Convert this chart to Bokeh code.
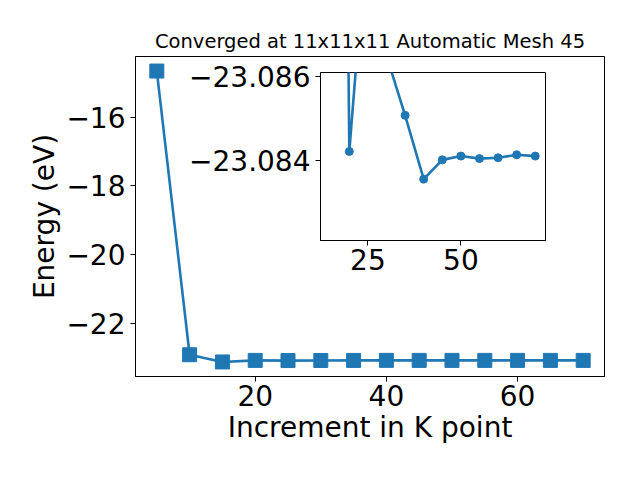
from bokeh.plotting import figure
from bokeh.models import Range1d, FixedTicker, GridBox
from bokeh.embed import file_html
from bokeh.resources import INLINE

# ---- data ----
k_points = [5, 10, 15, 20, 25, 30, 35, 40, 45, 50, 55, 60, 65, 70]
energy = [-14.65, -22.92, -23.13, -23.08422, -23.0898, -23.0865, -23.08508,
          -23.08356, -23.08402, -23.08411, -23.08405, -23.08407, -23.08414, -23.08411]

main_x_ticks = [20, 40, 60]
main_x_labels = ["20", "40", "60"]
main_y_ticks = [-22, -20, -18, -16]
main_y_labels = ["\u221222", "\u221220", "\u221218", "\u221216"]

inset_x_ticks = [25, 50]
inset_x_labels = ["25", "50"]
inset_y_ticks = [-23.086, -23.084]
inset_y_labels = ["\u221223.086", "\u221223.084"]

title_text = "Converged at 11x11x11 Automatic Mesh 45"
x_label = "Increment in K point"
y_label = "Energy (eV)"

COLOR = "#1f77b4"
FONT = "DejaVu Sans"


def style_axes(p, xt, xl, yt, yl, size="28px"):
    p.xaxis.ticker = FixedTicker(ticks=xt)
    p.yaxis.ticker = FixedTicker(ticks=yt)
    p.xaxis.major_label_overrides = dict(zip(xt, xl))
    p.yaxis.major_label_overrides = dict(zip(yt, yl))
    for ax in (p.xaxis, p.yaxis):
        ax.major_label_text_font = FONT
        ax.major_label_text_font_size = size
        ax.major_label_text_color = "black"
        ax.axis_label_text_font = FONT
        ax.axis_label_text_font_size = "28px"
        ax.axis_label_text_font_style = "normal"
        ax.axis_label_text_color = "black"
        ax.axis_label_standoff = 2
        ax.major_tick_in = 0
        ax.major_tick_out = 5
        ax.minor_tick_line_color = None
        ax.axis_line_color = "black"
        ax.major_tick_line_color = "black"
    p.xaxis.major_label_standoff = 3
    p.xgrid.visible = False
    p.ygrid.visible = False
    p.outline_line_color = "black"
    p.outline_line_width = 1


# ---- main figure ----
p = figure(width=632, height=472, output_backend="svg", toolbar_location=None,
           x_range=Range1d(1.75, 73.25), y_range=Range1d(-23.554, -14.226),
           min_border_left=135, min_border_right=28, min_border_top=56,
           min_border_bottom=96, title=title_text)
p.title.text_font = FONT
p.title.text_font_size = "19.5px"
p.title.text_font_style = "normal"
p.title.text_color = "black"
p.title.align = "center"
p.title.standoff = 7
style_axes(p, main_x_ticks, main_x_labels, main_y_ticks, main_y_labels)
p.xaxis.axis_label = x_label
p.yaxis.axis_label = y_label
p.line(k_points, energy, line_color=COLOR, line_width=2.6)
p.scatter(k_points, energy, marker="square", size=14, color=COLOR)

# ---- inset ----
ins = figure(width=380, height=223, output_backend="svg", toolbar_location=None,
             x_range=Range1d(12.25, 72.75), y_range=Range1d(-23.0821, -23.0861),
             min_border_left=150, min_border_right=5, min_border_top=10,
             min_border_bottom=45)
ins.border_fill_alpha = 0
ins.background_fill_color = "white"
style_axes(ins, inset_x_ticks, inset_x_labels, inset_y_ticks, inset_y_labels)
ins.line(k_points[2:], energy[2:], line_color=COLOR, line_width=2.6)
ins.scatter(k_points[2:], energy[2:], marker="circle", size=8, color=COLOR)

layout = GridBox(children=[(p, 0, 0, 3, 3), (ins, 1, 1)],
                 rows=["62px", "223px", "187px"], cols=["170px", "380px", "82px"])

open("out.html", "w").write(file_html(layout, INLINE))
